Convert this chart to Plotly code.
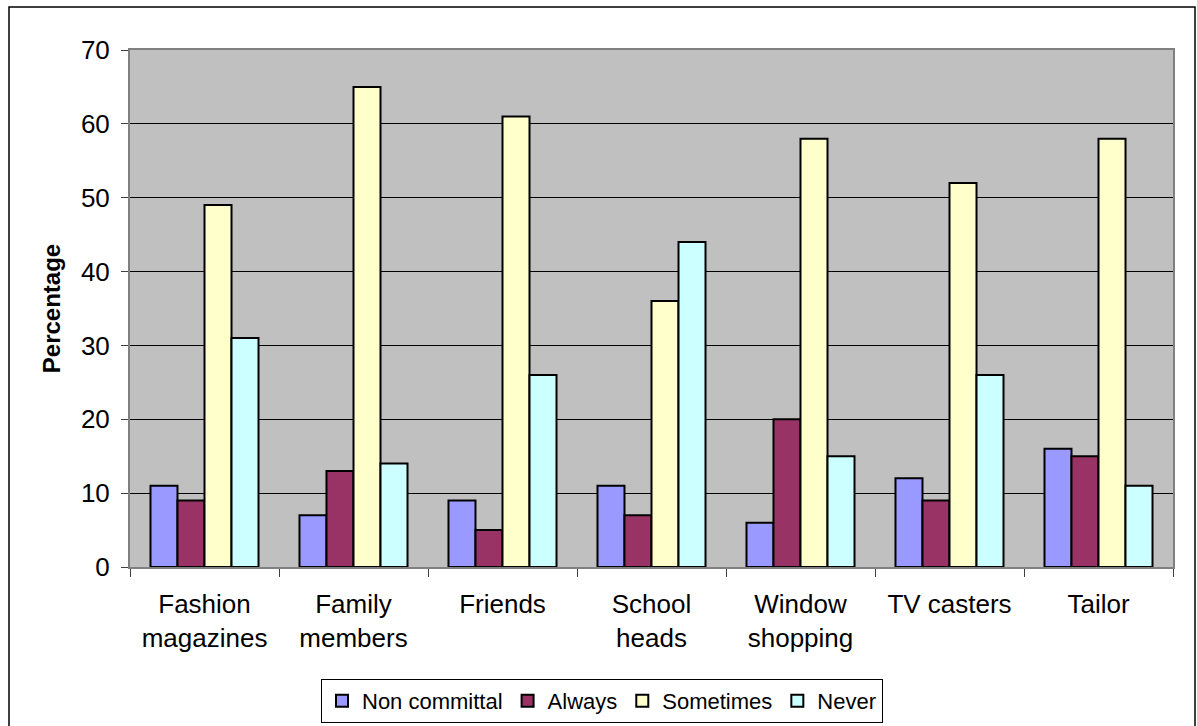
import plotly.graph_objects as go

categories = ["Fashion<br>magazines", "Family<br>members", "Friends", "School<br>heads",
              "Window<br>shopping", "TV casters", "Tailor"]
series_names = ["Non committal", "Always", "Sometimes", "Never"]
non_committal = [11, 7, 9, 11, 6, 12, 16]
always = [9, 13, 5, 7, 20, 9, 15]
sometimes = [49, 65, 61, 36, 58, 52, 58]
never = [31, 14, 26, 44, 15, 26, 11]
y_ticks = [0, 10, 20, 30, 40, 50, 60, 70]

colors = ["#9999FF", "#993366", "#FFFFCC", "#CCFFFF"]
values = [non_committal, always, sometimes, never]

fig = go.Figure()
for name, vals, col in zip(series_names, values, colors):
    fig.add_trace(go.Bar(x=categories, y=vals, name=name,
                         marker=dict(color=col, line=dict(color="black", width=2))))

font = "Liberation Sans, Arial, sans-serif"
W, H = 1197, 726
L, R, T, B = 130, 24, 50, 159
pw, ph = W - L - R, H - T - B
fig.update_layout(
    width=W, height=H,
    margin=dict(l=L, r=R, t=T, b=B, autoexpand=False),
    paper_bgcolor="white", plot_bgcolor="#C0C0C0",
    barmode="group", bargap=0.275, bargroupgap=0,
    font=dict(family=font, size=26, color="black"),
    showlegend=True,
    legend=dict(orientation="h", xref="container", yref="container",
                x=602 / W, xanchor="center", y=1 - 701 / H, yanchor="middle",
                bordercolor="black", borderwidth=1, bgcolor="white",
                font=dict(family=font, size=22, color="black"),
                itemwidth=30, tracegroupgap=0),
    xaxis=dict(tickson="boundaries", ticks="outside", ticklen=8, tickcolor="#404040",
               showline=True, linecolor="#808080", linewidth=2, mirror=True,
               showgrid=False, ticklabelstandoff=13,
               tickfont=dict(size=26, family=font, color="black")),
    yaxis=dict(range=[0, 70], tickvals=y_ticks, ticks="outside", ticklen=7, tickcolor="#404040",
               showline=True, linecolor="#808080", linewidth=2, mirror=True,
               showgrid=True, gridcolor="black", gridwidth=1, zeroline=False,
               ticklabelstandoff=6,
               tickfont=dict(size=26, family=font, color="black"),
               title=dict(text="<b>Percentage</b>", font=dict(size=24, family=font, color="black"),
                          standoff=13)),
)
fig.add_shape(type="rect", xref="paper", yref="paper",
              x0=-(L - 9) / pw, x1=1 + (R - 2) / pw, y0=-(B + 20) / ph, y1=1 + (T - 7) / ph,
              line=dict(color="black", width=1.5), fillcolor="rgba(0,0,0,0)", layer="below")

fig.write_html("out.html", config={"displayModeBar": False},
               post_script="document.body.style.margin='0';document.body.style.overflow='hidden';")
